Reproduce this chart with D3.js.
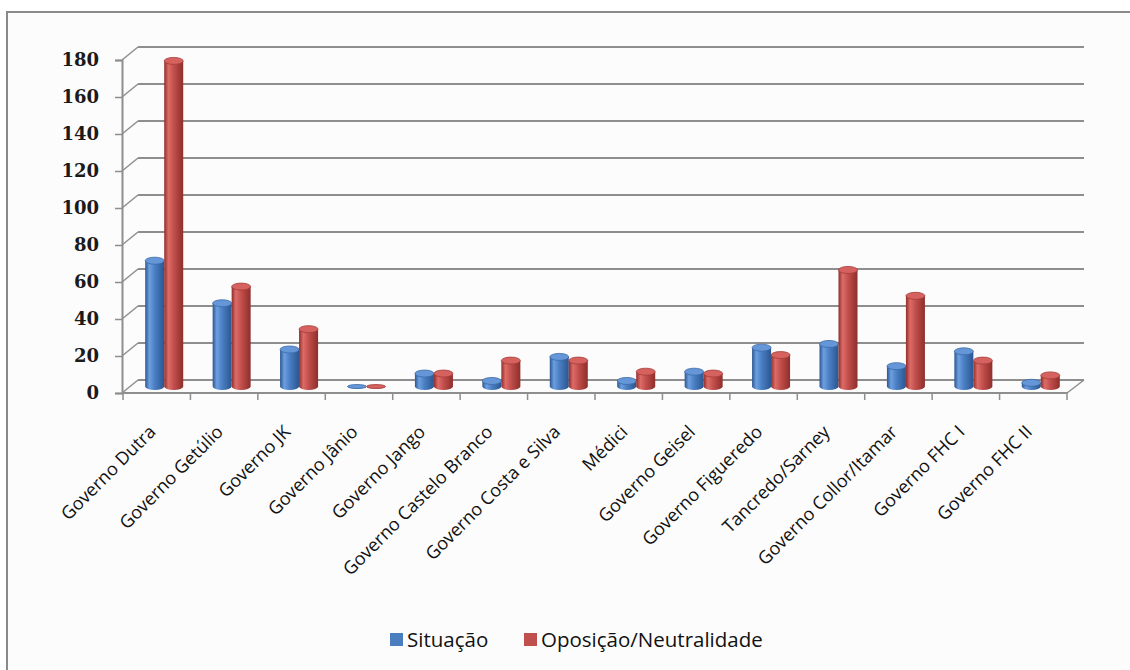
<!DOCTYPE html>
<html>
<head>
<meta charset="utf-8">
<script src="https://cdn.jsdelivr.net/npm/d3@7"></script>
<style>
  html, body { margin: 0; padding: 0; background: #ffffff; }
  svg { display: block; }
</style>
</head>
<body>
<svg id="chart" width="1130" height="670"></svg>
<script>
// Governments and the two groups counted for each
const categories = [
  "Governo Dutra", "Governo Getúlio", "Governo JK", "Governo Jânio",
  "Governo Jango", "Governo Castelo Branco", "Governo Costa e Silva",
  "Médici", "Governo Geisel", "Governo Figueredo", "Tancredo/Sarney",
  "Governo Collor/Itamar", "Governo FHC I", "Governo FHC II"
];
const seriesNames = ["Situação", "Oposição/Neutralidade"];
const situacao = [68, 45, 20, 0, 7, 3, 16, 3, 8, 21, 23, 11, 19, 2];
const oposicao = [176, 54, 31, 0, 7, 14, 14, 8, 7, 17, 63, 49, 14, 6];
const yTicks = [0, 20, 40, 60, 80, 100, 120, 140, 160, 180];

const colors = {
  "Situação": { dark: "#2b5690", mid: "#4a7fc4", light: "#6d9fe0", top: "#6597d8", rim: "#3b69a6", key: "#4a7ebf" },
  "Oposição/Neutralidade": { dark: "#8e2e2b", mid: "#c24f4b", light: "#dd6c68", top: "#d5625e", rim: "#a53c39", key: "#c0504d" }
};

const svg = d3.select("#chart");

// chart frame
svg.append("rect")
  .attr("x", 7).attr("y", 12)
  .attr("width", 1140).attr("height", 680)
  .attr("fill", "#fcfcfc")
  .attr("stroke", "#8a8a8a").attr("stroke-width", 2);

// 3-D projection: depth of the plot box
const depthX = 15, depthY = -13;

const x = d3.scaleBand().domain(categories).range([123, 1067]);
const y = d3.scaleLinear().domain([0, 180]).range([393, 60]);
const xs = d3.scaleBand().domain(seriesNames).range([0, 38]);

const grid = svg.append("g").attr("stroke", "#8e8e8e").attr("fill", "none");

// back-wall gridlines and their diagonals on the side wall
yTicks.forEach(t => {
  const yf = y(t);
  grid.append("line")
    .attr("x1", 123 + depthX).attr("y1", yf + depthY)
    .attr("x2", 1067 + depthX + 2).attr("y2", yf + depthY)
    .attr("stroke-width", 2);
  grid.append("line")
    .attr("x1", 122).attr("y1", yf)
    .attr("x2", 123 + depthX).attr("y2", yf + depthY)
    .attr("stroke-width", 1.5);
});

// floor edges
grid.append("line")
  .attr("x1", 122).attr("y1", y(0)).attr("x2", 1067).attr("y2", y(0))
  .attr("stroke-width", 2);
grid.append("line")
  .attr("x1", 1067).attr("y1", y(0)).attr("x2", 1067 + depthX + 2).attr("y2", y(0) + depthY)
  .attr("stroke-width", 1.5);

// value axis
const yAxis = d3.axisLeft(y).tickValues(yTicks).tickSize(7).tickPadding(16);
const yg = svg.append("g").attr("transform", "translate(122,0)").call(yAxis);
yg.select(".domain").attr("stroke", "#8e8e8e").attr("stroke-width", 2);
yg.selectAll(".tick line").attr("stroke", "#8e8e8e").attr("stroke-width", 1.5);
yg.selectAll(".tick text")
  .attr("font-family", "'DejaVu Serif', 'Liberation Serif', serif")
  .attr("font-weight", "bold")
  .attr("font-size", 18)
  .attr("fill", "#1a1a1a");

// category axis ticks
const xTickPos = categories.map(c => x(c)).concat([1067]);
svg.append("g").selectAll("line").data(xTickPos).join("line")
  .attr("x1", d => d).attr("x2", d => d)
  .attr("y1", y(0)).attr("y2", y(0) + 7)
  .attr("stroke", "#8e8e8e").attr("stroke-width", 1.5);

// category labels
svg.append("g").selectAll("text").data(categories).join("text")
  .attr("transform", c => `translate(${x(c) + x.bandwidth() / 2},${y(0) + 40}) rotate(-45)`)
  .attr("text-anchor", "end")
  .attr("font-family", "'Open Sans', Lato, sans-serif")
  .attr("font-size", 18)
  .attr("fill", "#111")
  .text(c => c);

// cylinder shading
const defs = svg.append("defs");
seriesNames.forEach((s, i) => {
  const c = colors[s];
  const g = defs.append("linearGradient").attr("id", "cyl" + i)
    .attr("x1", "0%").attr("x2", "100%").attr("y1", "0%").attr("y2", "0%");
  g.append("stop").attr("offset", "0%").attr("stop-color", c.dark);
  g.append("stop").attr("offset", "22%").attr("stop-color", c.light);
  g.append("stop").attr("offset", "50%").attr("stop-color", c.mid);
  g.append("stop").attr("offset", "100%").attr("stop-color", c.dark);
});

const rows = categories.map((c, i) => ({ cat: c, values: [situacao[i], oposicao[i]] }));
const midX = depthX / 2, midY = depthY / 2;

const bars = svg.append("g");
rows.forEach(row => {
  seriesNames.forEach((s, si) => {
    const v = row.values[si];
    const x0 = x(row.cat) + (x.bandwidth() - 38) / 2 + xs(s) + midX;
    const w = xs.bandwidth();
    const cx = x0 + w / 2, rx = w / 2;
    const ry = v === 0 ? 2 : 3.5;
    const yb = y(0) + midY, yt = y(v) + midY;
    const c = colors[s];
    // body with the lower half of the base ellipse
    const body = `M${x0},${yt} L${x0},${yb} A${rx},${ry} 0 0 0 ${x0 + w},${yb} L${x0 + w},${yt} Z`;
    bars.append("path").attr("d", body).attr("fill", `url(#cyl${si})`);
    bars.append("ellipse")
      .attr("cx", cx).attr("cy", yt).attr("rx", rx).attr("ry", ry)
      .attr("fill", c.top).attr("stroke", c.rim).attr("stroke-width", 0.8);
  });
});

// legend
const legend = svg.append("g").attr("font-family", "'Open Sans', Lato, sans-serif").attr("font-size", 20.5);
const legendItems = [
  { name: seriesNames[0], x: 390 },
  { name: seriesNames[1], x: 524 }
];
legendItems.forEach(it => {
  legend.append("rect").attr("x", it.x).attr("y", 633).attr("width", 13).attr("height", 13)
    .attr("fill", colors[it.name].key);
  legend.append("text").attr("x", it.x + 17).attr("y", 647).attr("fill", "#111").text(it.name);
});
</script>
</body>
</html>
